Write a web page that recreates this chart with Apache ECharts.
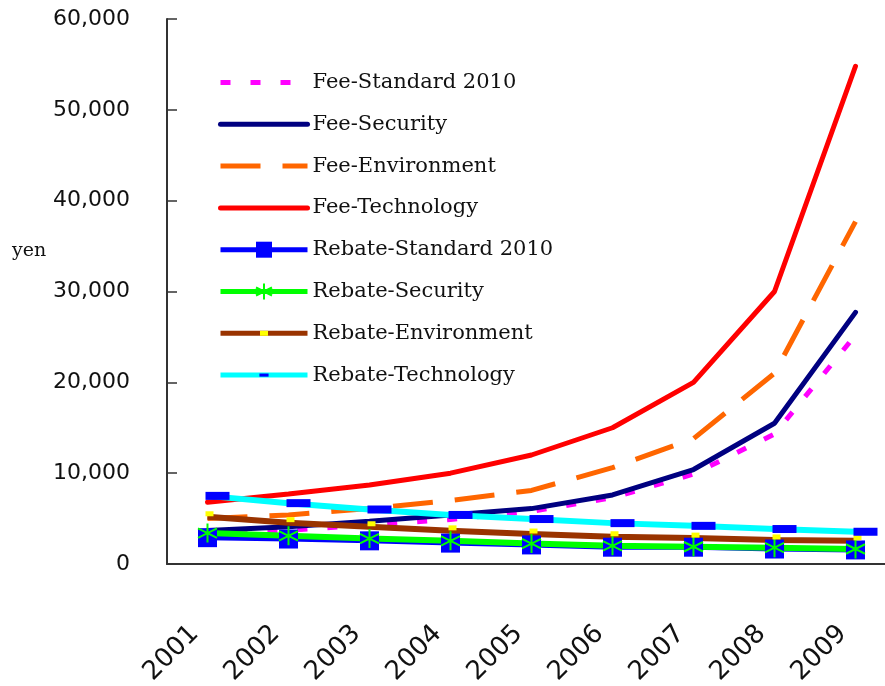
<!DOCTYPE html>
<html>
<head>
<meta charset="utf-8">
<script src="https://cdn.jsdelivr.net/npm/echarts@6/dist/echarts.min.js"></script>
<style>
  html, body { margin: 0; padding: 0; background: #fff; }
  #chart { width: 885px; height: 686px; }
</style>
</head>
<body>
<div id="chart"></div>
<script>
  // values (yen)
  const years = ['2001', '2002', '2003', '2004', '2005', '2006', '2007', '2008', '2009'];
  const feeStandard = [3400, 3700, 4300, 4900, 5800, 7300, 9900, 14300, 25200];
  const feeSecurity = [3700, 4100, 4700, 5400, 6100, 7600, 10400, 15500, 27700];
  const feeEnvironment = [5000, 5400, 6100, 7000, 8100, 10600, 13800, 21000, 37700];
  const feeTechnology = [6800, 7700, 8700, 10000, 12000, 15000, 20000, 30000, 54800];
  const rebateStandard = [2900, 2750, 2550, 2300, 2100, 1850, 1850, 1650, 1550];
  const rebateSecurity = [3400, 3100, 2800, 2550, 2250, 2000, 1900, 1800, 1650];
  const rebateEnvironment = [5200, 4550, 4100, 3650, 3300, 3000, 2850, 2650, 2550];
  const rebateTechnology = [7500, 6700, 6000, 5400, 4950, 4500, 4200, 3850, 3550];

  const axisColor = '#333';
  const asterisk = 'path://M10,0L10,20M1.34,5L18.66,15M1.34,15L18.66,5';
  // small marks padded with empty moveTo corners so the legend keeps them small
  const yellowMark = 'path://M0,0M16,16M4,5.5L12,5.5L12,10.5L4,10.5Z';
  const blueDash = 'path://M0,0M42,42M9,17L33,17L33,25L9,25Z';

  const chart = echarts.init(document.getElementById('chart'));

  function feeLine(name, data, color, type) {
    return {
      name: name,
      type: 'line',
      data: data,
      symbol: 'none',
      lineStyle: { color: color, width: 5, type: type || 'solid', cap: type ? 'butt' : 'round' },
      itemStyle: { color: color },
      z: 2
    };
  }

  // fee lines have no marker, so hide the legend's default circle for them
  const noMark = { opacity: 0 };

  const option = {
    animation: false,
    // plot runs a little past the right edge of the picture, as in the original
    grid: { left: 167, width: 729, top: 19, bottom: 122, containLabel: false, outerBoundsMode: 'none' },
    legend: {
      orient: 'vertical',
      left: 218,
      top: 72,
      padding: 0,
      itemWidth: 87,
      itemHeight: 20,
      itemGap: 20.8,
      lineStyle: { width: 5 },
      textStyle: { fontFamily: 'DejaVu Serif', fontSize: 21, color: '#111' },
      data: [
        { name: 'Fee-Standard 2010', itemStyle: noMark },
        { name: 'Fee-Security', itemStyle: noMark },
        { name: 'Fee-Environment', itemStyle: noMark },
        { name: 'Fee-Technology', itemStyle: noMark },
        'Rebate-Standard 2010', 'Rebate-Security', 'Rebate-Environment', 'Rebate-Technology'
      ]
    },
    graphic: [{
      type: 'text',
      left: 12,
      top: 242,
      style: { text: 'yen', font: '19px "DejaVu Serif"', fill: '#111' }
    }],
    xAxis: {
      type: 'category',
      data: years,
      boundaryGap: true,
      axisLine: { lineStyle: { color: axisColor, width: 2 } },
      axisTick: { inside: true, length: 11, interval: 0, lineStyle: { color: axisColor, width: 1.5 } },
      axisLabel: {
        interval: 0, rotate: 45, margin: 53,
        padding: [0, 18, 0, 0],
        fontFamily: 'DejaVu Sans', fontSize: 26, color: '#111'
      },
      splitLine: { show: false }
    },
    yAxis: {
      type: 'value',
      min: 0,
      max: 60000,
      interval: 10000,
      axisLine: { show: true, lineStyle: { color: axisColor, width: 2 } },
      axisTick: { show: true, inside: true, length: 10, lineStyle: { color: axisColor, width: 1.5 } },
      axisLabel: { margin: 37, fontFamily: 'DejaVu Sans', fontSize: 22, color: '#111' },
      splitLine: { show: false }
    },
    series: [
      feeLine('Fee-Standard 2010', feeStandard, '#ff00ff', [10, 20]),
      feeLine('Fee-Security', feeSecurity, '#000080'),
      feeLine('Fee-Environment', feeEnvironment, '#ff6600', [40, 22]),
      feeLine('Fee-Technology', feeTechnology, '#ff0000'),
      {
        name: 'Rebate-Standard 2010',
        type: 'line',
        data: rebateStandard,
        symbol: 'rect',
        symbolSize: 19,
        lineStyle: { color: '#0000ff', width: 5 },
        itemStyle: { color: '#0000ff', borderWidth: 0 },
        z: 3
      },
      {
        name: 'Rebate-Security',
        type: 'line',
        data: rebateSecurity,
        symbol: asterisk,
        symbolSize: 19,
        lineStyle: { color: '#00ff00', width: 6 },
        itemStyle: { color: 'none', borderColor: '#00ff00', borderWidth: 2 },
        z: 3
      },
      {
        name: 'Rebate-Environment',
        type: 'line',
        data: rebateEnvironment,
        symbol: yellowMark,
        symbolSize: 16,
        symbolOffset: [2, -3],
        lineStyle: { color: '#993300', width: 6 },
        itemStyle: { color: '#ffff00', borderWidth: 0 },
        z: 3
      },
      {
        name: 'Rebate-Technology',
        type: 'line',
        data: rebateTechnology,
        symbol: blueDash,
        symbolSize: 42,
        symbolOffset: [10, 0],
        lineStyle: { color: '#00ffff', width: 6 },
        itemStyle: { color: '#0000ff', borderWidth: 0 },
        z: 3
      }
    ]
  };

  chart.setOption(option);
</script>
</body>
</html>
